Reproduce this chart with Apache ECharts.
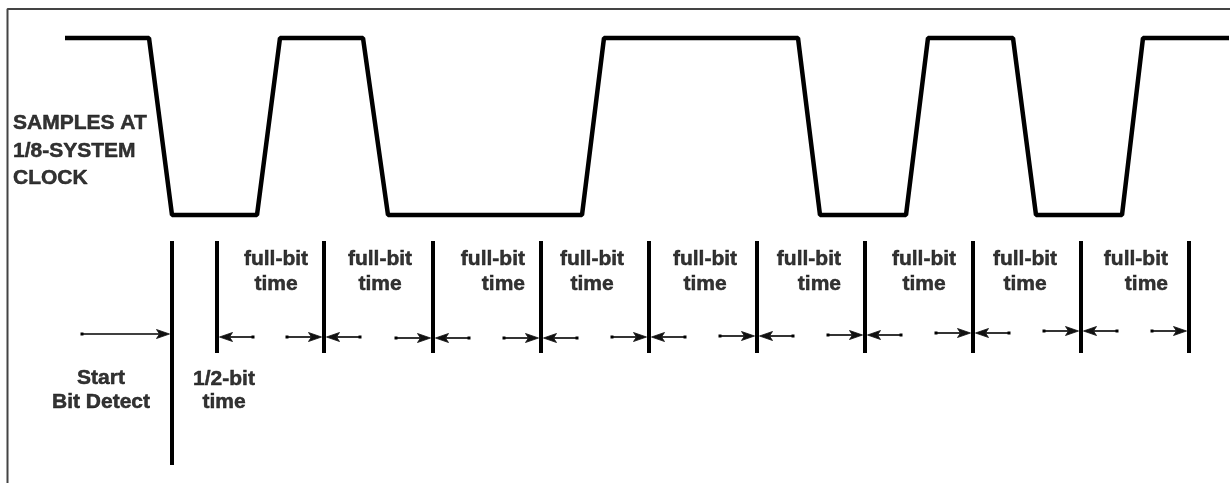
<!DOCTYPE html>
<html>
<head>
<meta charset="utf-8">
<script src="https://cdn.jsdelivr.net/npm/echarts@6/dist/echarts.min.js"></script>
<style>
  html, body { margin: 0; padding: 0; background: #fff; }
  #chart { width: 1230px; height: 483px; }
</style>
</head>
<body>
<div id="chart"></div>
<script>
// serial line: corner points of the waveform (x = time on a px-like scale), 1 = high, 0 = low
var edgeX = [65, 149, 172, 257, 280, 363, 388, 582, 604, 798, 820, 906, 928, 1013, 1036, 1122, 1143, 1229];
var level = [1, 1, 0, 0, 1, 1, 0, 0, 1, 1, 0, 0, 1, 1, 0, 0, 1, 1];

// sampling marks
var startDetectX = 172;
var sampleX = [217, 324, 433, 541, 649, 757, 865, 973, 1081, 1189];
var arrowY = [337, 337, 338, 338, 337, 336, 335, 333, 331, 331];
var startArrow = [82, 172, 334];   // tail x, head x, y

// text
var sideLabel = ['SAMPLES AT', '1/8-SYSTEM', 'CLOCK'];
var fullBitX = [276, 380, 525, 592, 705, 841, 924, 1025, 1168];
var fullBitAlign = ['center', 'center', 'right', 'center', 'center', 'right', 'center', 'center', 'right'];
var fullBitText = 'full-bit\ntime';
var startText = 'Start\nBit Detect';
var halfBitText = '1/2-bit\ntime';

var chart = echarts.init(document.getElementById('chart'));

var BAR_TOP = 241, BAR_BOTTOM = 353, START_BOTTOM = 465;
var ARROW_LEN = 36, GAP = 2.5;

var bars = [[startDetectX, BAR_TOP, START_BOTTOM]];
sampleX.forEach(function (x) { bars.push([x, BAR_TOP, BAR_BOTTOM]); });

// [tail x, head x, y]
var arrows = [[startArrow[0], startArrow[1] - GAP, startArrow[2]]];
sampleX.forEach(function (x, i) {
  var y = arrowY[i];
  if (i > 0) arrows.push([x - ARROW_LEN - 1, x - GAP, y]);
  if (i < sampleX.length - 1) arrows.push([x + ARROW_LEN, x + GAP, y]);
});

var textStyle = {
  color: '#000', fontFamily: 'Liberation Sans, Arial, sans-serif',
  fontWeight: 'bold', fontSize: 21,
  textBorderColor: '#000', textBorderWidth: 0.5
};

var labels = [
  { name: sideLabel.join('\n'), value: [13, 151], label: { align: 'left', lineHeight: 27.5 } },
  { name: startText, value: [101, 390], label: { align: 'center', lineHeight: 24 } },
  { name: halfBitText, value: [224, 391], label: { align: 'center', lineHeight: 23 } }
];
fullBitX.forEach(function (x, i) {
  labels.push({ name: fullBitText, value: [x, 272], label: { align: fullBitAlign[i], lineHeight: 25 } });
});

chart.setOption({
  animation: false,
  backgroundColor: '#fff',
  grid: [
    { left: 0, top: 38, width: 1230, height: 177 },
    { left: 0, top: 0, width: 1230, height: 483 }
  ],
  xAxis: [
    { gridIndex: 0, type: 'value', min: 0, max: 1230, show: false },
    { gridIndex: 1, type: 'value', min: 0, max: 1230, show: false }
  ],
  yAxis: [
    { gridIndex: 0, type: 'value', min: 0, max: 1, show: false },
    { gridIndex: 1, type: 'value', min: 0, max: 483, inverse: true, show: false }
  ],
  series: [
    {
      name: 'frame', type: 'line', xAxisIndex: 1, yAxisIndex: 1, clip: false,
      symbol: 'none', silent: true,
      lineStyle: { color: '#444', width: 2 },
      data: [[7.5, 483], [7.5, 9], [1230, 9]]
    },
    {
      name: 'signal', type: 'line', xAxisIndex: 0, yAxisIndex: 0, clip: false,
      symbol: 'none', silent: true,
      lineStyle: { color: '#000', width: 4.5 },
      data: edgeX.map(function (x, i) { return [x, level[i]]; })
    },
    {
      name: 'samples', type: 'custom', xAxisIndex: 1, yAxisIndex: 1, clip: false, silent: true,
      data: bars,
      renderItem: function (params, api) {
        var p1 = api.coord([api.value(0), api.value(1)]);
        var p2 = api.coord([api.value(0), api.value(2)]);
        return {
          type: 'line',
          shape: { x1: p1[0], y1: p1[1], x2: p2[0], y2: p2[1] },
          style: { stroke: '#000', lineWidth: 4 }
        };
      }
    },
    {
      name: 'arrows', type: 'custom', xAxisIndex: 1, yAxisIndex: 1, clip: false, silent: true,
      data: arrows,
      renderItem: function (params, api) {
        var a = api.coord([api.value(0), api.value(2)]);
        var b = api.coord([api.value(1), api.value(2)]);
        var d = b[0] > a[0] ? 1 : -1;
        var L = 13, W = 4.5, N = 10;
        return {
          type: 'group',
          children: [
            { type: 'line', shape: { x1: a[0], y1: a[1], x2: b[0] - d * N, y2: b[1] },
              style: { stroke: '#000', lineWidth: 1.6 } },
            { type: 'polygon', shape: { points: [
                [b[0], b[1]], [b[0] - d * L, b[1] - W], [b[0] - d * N, b[1]], [b[0] - d * L, b[1] + W]
              ] }, style: { fill: '#111', stroke: '#111', lineWidth: 0.8 } },
            { type: 'rect', shape: { x: a[0] - 1.5, y: a[1] - 1.5, width: 3, height: 3 },
              style: { fill: '#000' } }
          ]
        };
      }
    },
    {
      name: 'labels', type: 'scatter', xAxisIndex: 1, yAxisIndex: 1, clip: false, silent: true,
      symbolSize: 0,
      label: Object.assign({
        show: true, position: 'inside', verticalAlign: 'middle',
        formatter: function (p) { return p.name; }
      }, textStyle),
      data: labels
    }
  ]
});
</script>
</body>
</html>
